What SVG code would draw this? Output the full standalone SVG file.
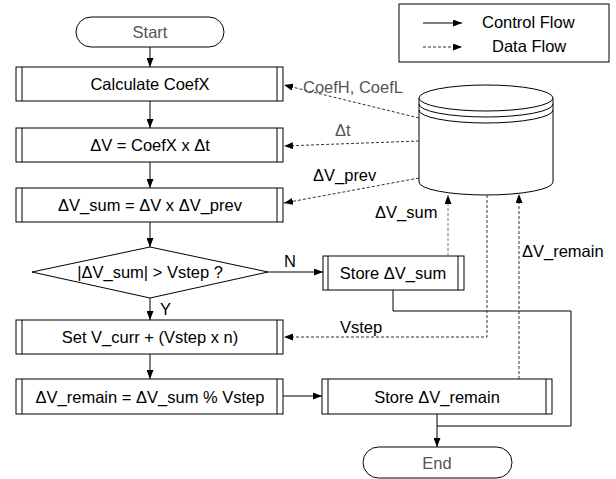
<svg xmlns="http://www.w3.org/2000/svg" width="616" height="479" viewBox="0 0 616 479">
<defs>
<marker id="ah" markerWidth="9" markerHeight="7" refX="9" refY="3.5" orient="auto" markerUnits="userSpaceOnUse">
<path d="M0,0 L9,3.5 L0,7 z" fill="#000"/>
</marker>
<style>
text{font-family:"Liberation Sans",Arial,sans-serif;font-size:16.5px;fill:#000}
.c{text-anchor:middle}
.g{fill:#555}
.box{fill:#fff;stroke:#000;stroke-width:1}
.in{stroke:#000;stroke-width:1}
.ctl{fill:none;stroke:#000;stroke-width:1}
.dat{fill:none;stroke:#333;stroke-width:1;stroke-dasharray:3,2}
.datg{fill:none;stroke:#777;stroke-width:1;stroke-dasharray:3,2}
</style>
</defs>
<rect width="616" height="479" fill="#fff"/>

<g id="legend">
<rect x="399" y="4" width="210" height="58" class="box"/>
<line x1="423" y1="23" x2="462" y2="23" class="ctl" marker-end="url(#ah)"/>
<text x="482" y="28">Control Flow</text>
<line x1="423" y1="47" x2="462" y2="47" class="dat" marker-end="url(#ah)"/>
<text x="492" y="52">Data Flow</text>
</g>

<g id="start">
<rect x="76" y="17" width="148" height="30" rx="15" ry="15" class="box"/>
<text x="150" y="38" class="c g">Start</text>
</g>

<g id="calc">
<rect x="16" y="67" width="267" height="34" class="box"/>
<line x1="22" y1="67" x2="22" y2="101" class="in"/>
<line x1="277" y1="67" x2="277" y2="101" class="in"/>
<text x="150" y="90" class="c">Calculate CoefX</text>
</g>

<g id="dv">
<rect x="16" y="128" width="267" height="34" class="box"/>
<line x1="22" y1="128" x2="22" y2="162" class="in"/>
<line x1="277" y1="128" x2="277" y2="162" class="in"/>
<text x="150" y="151" class="c">ΔV = CoefX x Δt</text>
</g>

<g id="dvsum">
<rect x="16" y="188" width="267" height="34" class="box"/>
<line x1="22" y1="188" x2="22" y2="222" class="in"/>
<line x1="277" y1="188" x2="277" y2="222" class="in"/>
<text x="150" y="211" class="c">ΔV_sum = ΔV x ΔV_prev</text>
</g>

<g id="decision">
<polygon points="150,247 268,272 150,298 32,272" class="box"/>
<text x="150" y="278" class="c">|ΔV_sum| &gt; Vstep ?</text>
</g>

<g id="setv">
<rect x="16" y="320" width="267" height="34" class="box"/>
<line x1="22" y1="320" x2="22" y2="354" class="in"/>
<line x1="277" y1="320" x2="277" y2="354" class="in"/>
<text x="150" y="343" class="c">Set V_curr + (Vstep x n)</text>
</g>

<g id="remain">
<rect x="16" y="379" width="267" height="35" class="box"/>
<line x1="22" y1="379" x2="22" y2="414" class="in"/>
<line x1="277" y1="379" x2="277" y2="414" class="in"/>
<text x="150" y="403" class="c">ΔV_remain = ΔV_sum % Vstep</text>
</g>

<g id="storesum">
<rect x="323" y="256" width="141" height="34" class="box"/>
<line x1="328" y1="256" x2="328" y2="290" class="in"/>
<line x1="458" y1="256" x2="458" y2="290" class="in"/>
<text x="393" y="279" class="c">Store ΔV_sum</text>
</g>

<g id="storeremain">
<rect x="322" y="379" width="230" height="35" class="box"/>
<line x1="328" y1="379" x2="328" y2="414" class="in"/>
<line x1="546" y1="379" x2="546" y2="414" class="in"/>
<text x="437" y="403" class="c">Store ΔV_remain</text>
</g>

<g id="end">
<rect x="363" y="447" width="149" height="31" rx="15.5" ry="15.5" class="box"/>
<text x="437" y="469" class="c g">End</text>
</g>

<g id="db">
<path d="M419,98 L419,182 A67,13 0 0 0 553,182 L553,98" class="box"/>
<ellipse cx="486" cy="98" rx="67" ry="13" class="box"/>
<path d="M419,104 A67,13 0 0 0 553,104" class="ctl"/>
<path d="M419,110 A67,13 0 0 0 553,110" class="ctl"/>
</g>

<g id="connectors">
<line x1="150" y1="47" x2="150" y2="67" class="ctl" marker-end="url(#ah)"/>
<line x1="150" y1="101" x2="150" y2="128" class="ctl" marker-end="url(#ah)"/>
<line x1="150" y1="162" x2="150" y2="188" class="ctl" marker-end="url(#ah)"/>
<line x1="150" y1="222" x2="150" y2="247" class="ctl" marker-end="url(#ah)"/>
<line x1="150" y1="298" x2="150" y2="320" class="ctl" marker-end="url(#ah)"/>
<line x1="150" y1="354" x2="150" y2="379" class="ctl" marker-end="url(#ah)"/>
<line x1="268" y1="272" x2="323" y2="272" class="ctl" marker-end="url(#ah)"/>
<line x1="283" y1="396" x2="322" y2="396" class="ctl" marker-end="url(#ah)"/>
<line x1="437" y1="414" x2="437" y2="447" class="ctl" marker-end="url(#ah)"/>
<polyline points="393,290 393,311 571,311 571,426 437,426" class="ctl"/>

<line x1="419" y1="118" x2="284" y2="85" class="dat" marker-end="url(#ah)"/>
<line x1="419" y1="141" x2="284" y2="146" class="dat" marker-end="url(#ah)"/>
<line x1="419" y1="178" x2="284" y2="203" class="dat" marker-end="url(#ah)"/>
<line x1="448" y1="256" x2="448" y2="195" class="datg" marker-end="url(#ah)"/>
<polyline points="487,195 487,337 284,337" class="dat" marker-end="url(#ah)"/>
<line x1="519" y1="379" x2="519" y2="194" class="dat" marker-end="url(#ah)"/>

<text x="303" y="93" class="g">CoefH, CoefL</text>
<text x="335" y="136" class="g">Δt</text>
<text x="313" y="181">ΔV_prev</text>
<text x="375" y="218">ΔV_sum</text>
<text x="522" y="257">ΔV_remain</text>
<text x="340" y="333">Vstep</text>
<text x="284" y="267">N</text>
<text x="160" y="315">Y</text>
</g>
</svg>
